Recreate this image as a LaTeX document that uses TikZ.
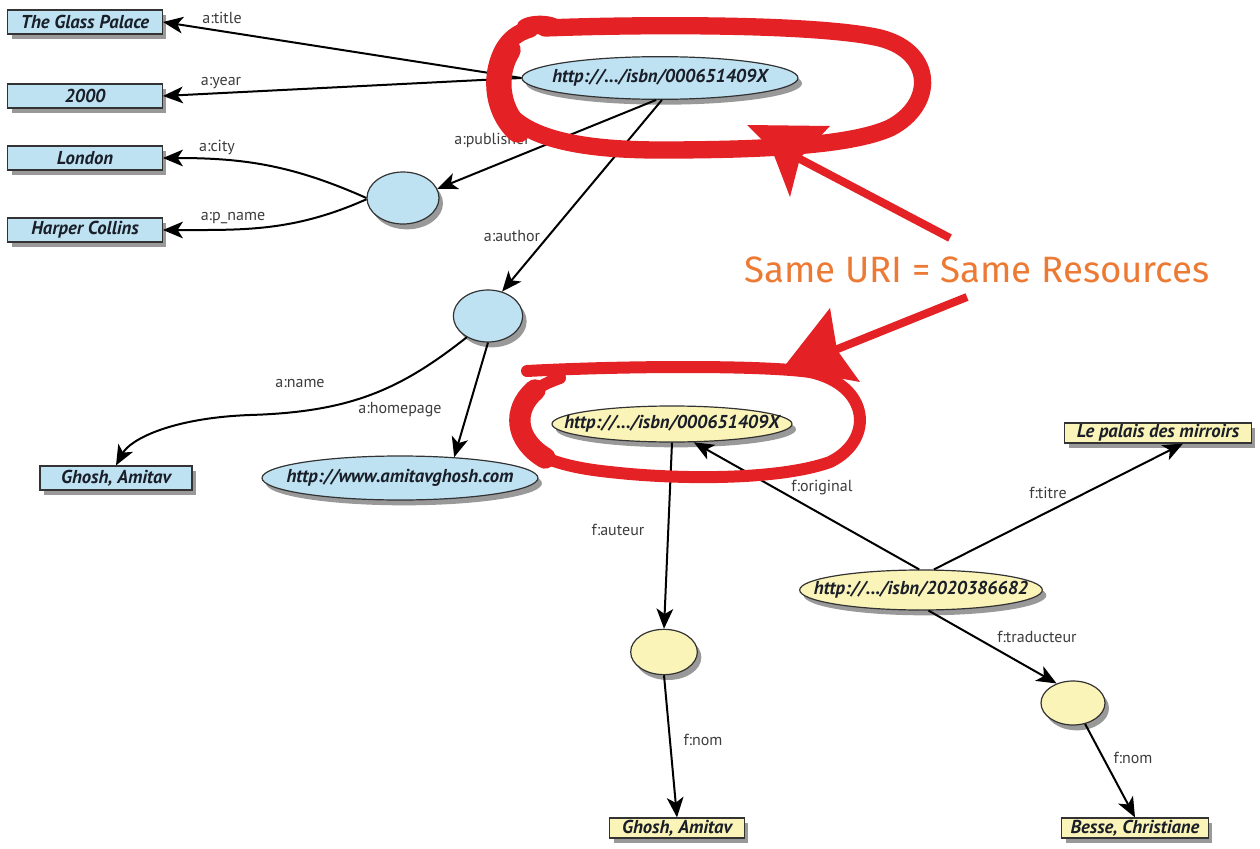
\documentclass[tikz,border=0pt]{standalone}
\usepackage{fontspec}
\setmainfont{PT Sans}
\newfontfamily\comicf{Fira Sans}
\usetikzlibrary{arrows.meta,shadows,shapes.geometric}
\definecolor{nblue}{RGB}{190,226,242}
\definecolor{nyel}{RGB}{251,244,184}
\definecolor{redm}{RGB}{228,34,38}
\definecolor{orng}{RGB}{236,122,52}
\definecolor{lbl}{RGB}{60,60,60}
\definecolor{txt}{RGB}{25,30,40}
\begin{document}
\begin{tikzpicture}[x=0.75pt,y=-0.75pt,
  nfont/.style={font=\fontsize{14}{16}\selectfont\bfseries\itshape, text=txt},
  base/.style={draw=black!80, line width=0.9pt, inner sep=0pt, nfont,
    drop shadow={shadow xshift=3pt,shadow yshift=-4pt,fill=black,opacity=0.4}},
  bbox/.style={base, rectangle, fill=nblue, minimum height=18pt},
  ybox/.style={base, rectangle, fill=nyel, minimum height=15pt},
  bell/.style={base, ellipse, fill=nblue},
  yell/.style={base, ellipse, fill=nyel},
  nlab/.style={nfont, inner sep=0pt},
  arr/.style={line width=1.5pt, -{Stealth[length=15pt,width=12.5pt,inset=4pt]}},
  elab/.style={font=\fontsize{12}{14}\selectfont, text=lbl, inner sep=1pt},
  redline/.style={draw=redm, line cap=round, line join=round},
]
\useasboundingbox (0,0) rectangle (1260,849);

% ---- nodes (blue graph)
\node[bbox, minimum width=116pt] (glass) at (85,22) {The Glass Palace};
\node[bbox, minimum width=116pt] (y2000) at (85,96) {2000};
\node[bbox, minimum width=116pt] (london) at (85,158) {London};
\node[bbox, minimum width=116pt] (harper) at (85,230) {Harper Collins};
\node[bell, minimum width=207pt, minimum height=32pt,
      label={[nlab]center:{http://.../isbn/000651409X}}] (top) at (660,78) {};
\node[bell, minimum width=54pt, minimum height=39pt] (pub) at (403,198) {};
\node[bell, minimum width=52pt, minimum height=39pt] (auth) at (488,316) {};
\node[bbox, minimum width=114pt] (ghA) at (116,478) {Ghosh, Amitav};
\node[bell, minimum width=207pt, minimum height=33pt,
      label={[nlab]center:{http://www.amitavghosh.com}}] (home) at (400,478) {};

% ---- nodes (yellow graph)
\node[yell, minimum width=180pt, minimum height=27pt,
      label={[nlab]center:{http://.../isbn/000651409X}}] (bot) at (672,424) {};
\node[yell, minimum width=182pt, minimum height=30pt,
      label={[nlab]center:{http://.../isbn/2020386682}}] (isbn2) at (921,590) {};
\node[ybox, minimum width=140pt] (palais) at (1158,433) {Le palais des mirroirs};
\node[yell, minimum width=50pt, minimum height=34pt] (bA) at (664,652) {};
\node[yell, minimum width=48pt, minimum height=33pt] (bB) at (1073,703) {};
\node[ybox, minimum width=101pt] (ghY) at (677,828) {Ghosh, Amitav};
\node[ybox, minimum width=110pt] (besse) at (1135,828) {Besse, Christiane};

% ---- edges
\draw[arr] (top.west) -- (glass.east);
\draw[arr] (top.west) -- (y2000.east);
\draw[arr] (top.260) -- (pub.15);
\draw[arr] (top.275) -- (auth.60);
\draw[arr] (pub.180) to[out=156,in=0] (london.east);
\draw[arr] (pub.182) to[out=204,in=0] (harper.east);
\draw[arr] (auth.225) .. controls (400,390) and (350,412) .. (250,415)
                      .. controls (170,418) and (130,440) .. (ghA.north);
\draw[arr] (auth.south) -- (home.21);
\draw[arr] (bot.south) -- (bA.north);
\draw[arr] (isbn2.95) -- (bot.-40);
\draw[arr] (isbn2.58) -- (palais.-23);
\draw[arr] (isbn2.-70) -- (bB.130);
\draw[arr] (bA.south) -- (ghY.north);
\draw[arr] (bB.-60) -- (besse.north);

% ---- edge labels
\node[elab] (l1) at (222,18) {a:title};
\node[elab] (l2) at (221,83) {a:year};
\node[elab] (l3) at (492,140) {a:publisher};
\node[elab] (l4) at (512,236) {a:author};
\node[elab] (l5) at (217,147) {a:city};
\node[elab] (l6) at (233,218) {a:p\_name};
\node[elab] (l7) at (300,383) {a:name};
\node[elab] (l8) at (400,410) {a:homepage};
\node[elab] (l9) at (618,530) {f:auteur};
\node[elab] (l10) at (822,488) {f:original};
\node[elab] (l11) at (1048,493) {f:titre};
\node[elab] (l12) at (1037,637) {f:traducteur};
\node[elab] (l13) at (703,740) {f:nom};
\node[elab] (l14) at (1133,758) {f:nom};

% ---- red annotation, loop 1
\draw[redline, line width=13pt] (545,28) .. controls (650,24) and (820,24) .. (880,38)
  .. controls (935,52) and (935,105) .. (890,128)
  .. controls (850,146) and (760,150) .. (660,150)
  .. controls (570,150) and (500,135) .. (497,85)
  .. controls (495,58) and (505,36) .. (530,29);
\draw[redline, line width=19pt] (518,130) .. controls (495,108) and (494,72) .. (508,50);
\fill[redm] (540,25) ellipse (17pt and 7pt);
\draw[redm, line width=6pt] (950,238) -- (798,158);
\fill[redm] (747,125) -- (830,126) -- (800,158) -- (790,197) -- (772,150) -- cycle;

% ---- red annotation, loop 2
\draw[redline, line width=9pt] (527,371) .. controls (620,366) and (760,365) .. (810,372)
  .. controls (870,385) and (875,440) .. (830,462)
  .. controls (780,480) and (680,480) .. (610,472)
  .. controls (540,465) and (510,445) .. (517,415)
  .. controls (522,395) and (540,385) .. (560,378);
\draw[redline, line width=16pt] (545,458) .. controls (515,440) and (512,410) .. (535,390);
\draw[redm, line width=6pt] (967,297) -- (835,350);
\fill[redm] (830,308) -- (783,368) -- (860,382) -- (837,350) -- cycle;

% ---- caption
\node[font=\comicf\fontsize{27.5}{32}\selectfont, text=orng] (same) at (977,270) {Same URI = Same Resources};
\end{tikzpicture}
\end{document}
